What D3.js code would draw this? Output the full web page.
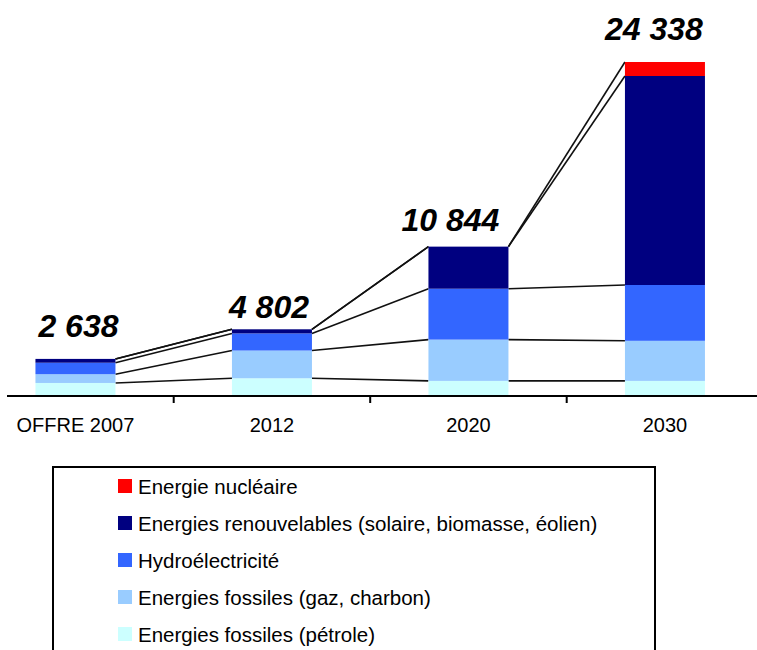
<!DOCTYPE html>
<html>
<head>
<meta charset="utf-8">
<script src="https://cdn.jsdelivr.net/npm/d3@7"></script>
<style>
  body { margin: 0; background: #fff; }
  svg { display: block; font-family: Arial, "Liberation Sans", sans-serif; }
</style>
</head>
<body>
<div id="chart"></div>
<script>
////////////////////////////////////////////////////////////////////////
// Data (MW)

const categories = ["OFFRE 2007", "2012", "2020", "2030"];

// bottom to top in the stack
const seriesNames = [
  "Energies fossiles (pétrole)",
  "Energies fossiles (gaz, charbon)",
  "Hydroélectricité",
  "Energies renouvelables (solaire, biomasse, éolien)",
  "Energie nucléaire"
];

const petrole     = [880, 1223, 1030, 1030];
const gazCharbon  = [640, 2026, 3019, 2930];
const hydro       = [840, 1253, 3719, 4080];
const renouvel    = [278, 300, 3076, 15275];
const nucleaire   = [0, 0, 0, 1023];

const totalLabels = ["2 638", "4 802", "10 844", "24 338"];

// legend order is top of stack first
const legendOrder = [4, 3, 2, 1, 0];

////////////////////////////////////////////////////////////////////////
// Layout

const width = 757, height = 650;
const colors = ["#CCFFFF", "#99CCFF", "#3366FF", "#000080", "#FF0000"];
const barW = 80;
// hand-placed data labels in the original, small nudges from bar centre
const labelNudge = [[3, -22], [-3, -11], [-18, -16], [-11, -22]];

const svg = d3.select("#chart").append("svg")
  .attr("width", width)
  .attr("height", height);

const xScale = d3.scaleBand()
  .domain(categories)
  .range([-22.8, 763.2])
  .padding(0);

const rows = categories.map((c, i) => {
  let r = { cat: c };
  [petrole, gazCharbon, hydro, renouvel, nucleaire].forEach((arr, k) => r[k] = arr[i]);
  return r;
});
const keys = d3.range(seriesNames.length);
const stacked = d3.stack().keys(keys)(rows);
const totals = rows.map(r => d3.sum(keys, k => r[k]));

const yScale = d3.scaleLinear()
  .domain([0, d3.max(totals)])
  .range([395, 62]);

const barX = c => xScale(c) + (xScale.bandwidth() - barW) / 2;

// Series lines joining segment tops between bars
const lineG = svg.append("g");
stacked.forEach(layer => {
  for (let i = 0; i < categories.length - 1; i++) {
    lineG.append("line")
      .attr("x1", barX(categories[i]) + barW)
      .attr("y1", yScale(layer[i][1]))
      .attr("x2", barX(categories[i + 1]))
      .attr("y2", yScale(layer[i + 1][1]))
      .attr("stroke", "#111")
      .attr("stroke-width", 1.6);
  }
});

// Bars
svg.append("g").selectAll("g")
  .data(stacked)
  .join("g")
  .attr("fill", d => colors[d.key])
  .selectAll("rect")
  .data(d => d)
  .join("rect")
  .attr("x", d => barX(d.data.cat))
  .attr("y", d => yScale(d[1]))
  .attr("width", barW)
  .attr("height", d => yScale(d[0]) - yScale(d[1]));

// Axis line + ticks between categories
svg.append("line")
  .attr("x1", 7).attr("x2", width)
  .attr("y1", 396).attr("y2", 396)
  .attr("stroke", "#000").attr("stroke-width", 2);

svg.append("g").selectAll("line")
  .data(categories.slice(1))
  .join("line")
  .attr("x1", d => xScale(d)).attr("x2", d => xScale(d))
  .attr("y1", 396).attr("y2", 403)
  .attr("stroke", "#000").attr("stroke-width", 2);

svg.append("g").selectAll("text")
  .data(categories)
  .join("text")
  .attr("x", d => xScale(d) + xScale.bandwidth() / 2)
  .attr("y", 432)
  .attr("text-anchor", "middle")
  .attr("font-size", 20)
  .attr("fill", "#000")
  .text(d => d);

// Totals
svg.append("g").selectAll("text")
  .data(categories)
  .join("text")
  .attr("x", (d, i) => xScale(d) + xScale.bandwidth() / 2 + labelNudge[i][0])
  .attr("y", (d, i) => yScale(totals[i]) + labelNudge[i][1])
  .attr("text-anchor", "middle")
  .attr("font-size", 32)
  .attr("font-weight", "bold")
  .attr("font-style", "italic")
  .attr("fill", "#000")
  .text((d, i) => totalLabels[i]);

// Legend
svg.append("rect")
  .attr("x", 53).attr("y", 467)
  .attr("width", 602).attr("height", 220)
  .attr("fill", "none")
  .attr("stroke", "#000")
  .attr("stroke-width", 2);

const leg = svg.append("g").selectAll("g")
  .data(legendOrder)
  .join("g")
  .attr("transform", (d, i) => `translate(118, ${494 + i * 37})`);

leg.append("rect")
  .attr("x", 0).attr("y", -15)
  .attr("width", 14).attr("height", 14)
  .attr("fill", d => colors[d]);

leg.append("text")
  .attr("x", 20).attr("y", 0)
  .attr("font-size", 20.5)
  .attr("fill", "#000")
  .text(d => seriesNames[d]);
</script>
</body>
</html>
